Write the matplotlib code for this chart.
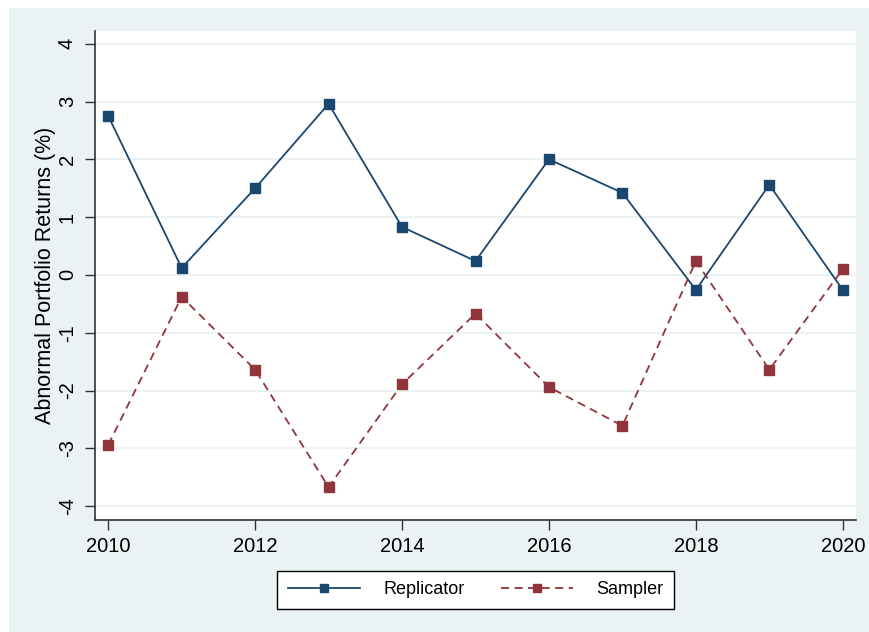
import matplotlib.pyplot as plt
from matplotlib.patches import Rectangle

plt.rcParams['font.family'] = ['Liberation Sans', 'DejaVu Sans']

# Données
years = [2010, 2011, 2012, 2013, 2014, 2015, 2016, 2017, 2018, 2019, 2020]
replicator = [2.75, 0.12, 1.50, 2.96, 0.83, 0.24, 2.00, 1.42, -0.26, 1.56, -0.26]
sampler = [-2.94, -0.38, -1.64, -3.67, -1.89, -0.67, -1.94, -2.61, 0.24, -1.64, 0.10]
xticks = [2010, 2012, 2014, 2016, 2018, 2020]
yticks = [-4, -3, -2, -1, 0, 1, 2, 3, 4]

bg = "#EAF2F3"
navy = "#1A476F"
maroon = "#90353B"

fig = plt.figure(figsize=(8.7, 6.32), dpi=100)
W, H = 870, 632
fig.patches.append(Rectangle((9 / W, 0), 1 - 9 / W, 1 - 8 / H,
                             transform=fig.transFigure, facecolor=bg,
                             edgecolor="none", zorder=-10))

ax = fig.add_axes([95 / W, 1 - 520 / H, (856 - 95) / W, (520 - 31) / H])
ax.set_facecolor("white")

ax.plot(years, replicator, color=navy, lw=1.3, marker='s', ms=6.5,
        label="Replicator")
ax.plot(years, sampler, color=maroon, lw=1.3, ls=(0, (4.5, 3)), marker='s',
        ms=6.5, label="Sampler")

ax.set_xlim(2009.82, 2020.18)
ax.set_ylim(-4.24, 4.22)
ax.set_xticks(xticks)
ax.set_yticks(yticks)
ax.set_yticklabels([str(v) for v in yticks], rotation=90, va='center')
ax.tick_params(axis='both', labelsize=14.5, length=7, width=1,
               color="#333333", direction='out', pad=5)
ax.tick_params(axis='y', pad=6)
ax.grid(axis='y', color=bg, lw=1.5)
ax.set_axisbelow(True)

for s in ["top", "right"]:
    ax.spines[s].set_visible(False)
for s in ["left", "bottom"]:
    ax.spines[s].set_color("#333333")
    ax.spines[s].set_linewidth(1.2)

ax.set_ylabel("Abnormal Portfolio Returns (%)", fontsize=15.5, labelpad=1.5)

leg = fig.legend(loc='center', bbox_to_anchor=(475.5 / W, 1 - 590 / H),
                 ncol=2, fontsize=13, frameon=True, fancybox=False,
                 framealpha=1, facecolor="white", markerscale=0.85,
                 handlelength=4.0, columnspacing=2.0, handletextpad=1.3,
                 borderpad=0.6)
leg.get_frame().set_edgecolor("black")
leg.get_frame().set_linewidth(1.0)

fig.savefig("out.png", dpi=100)
